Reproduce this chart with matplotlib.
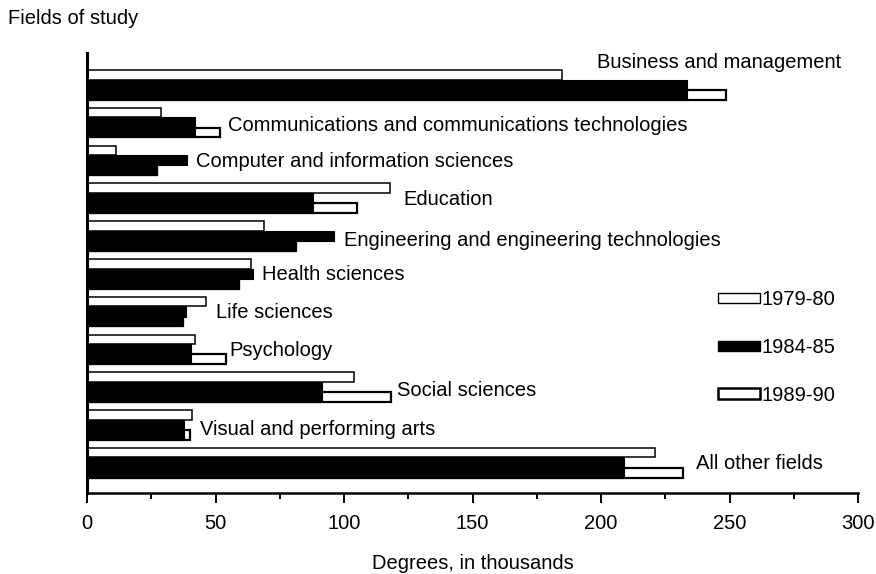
import numpy as np
import matplotlib
matplotlib.use("Agg")
import matplotlib.pyplot as plt
from matplotlib.patches import Patch

# bachelor's degrees by field, in thousands
fields = ["Business and management",
          "Communications and communications technologies",
          "Computer and information sciences",
          "Education",
          "Engineering and engineering technologies",
          "Health sciences",
          "Life sciences",
          "Psychology",
          "Social sciences",
          "Visual and performing arts",
          "All other fields"]
deg_1979 = [184.9, 28.6, 11.2, 118.0, 68.9, 63.9, 46.4, 42.1, 103.7, 40.9, 221.0]
deg_1984 = [233.4, 42.1, 39.1, 88.1, 96.1, 64.5, 38.4, 40.5, 91.5, 37.9, 209.0]
deg_1989 = [248.7, 51.7, 27.3, 105.1, 81.3, 59.0, 37.2, 54.0, 118.1, 39.9, 232.0]
years = ["1979-80", "1984-85", "1989-90"]

# where the field names sit (x in thousands, y shift in rows)
label_x = [198.5, 55, 42.5, 123, 100, 68, 50, 55.5, 120.5, 44, 237]
label_dy = [-0.63, 0.05, 0, 0, 0.08, 0, 0, 0, 0.05, 0.08, 0]

plt.rcParams['font.family'] = ['Liberation Sans', 'DejaVu Sans']
plt.rcParams['font.size'] = 14.5

fig = plt.figure(figsize=(8.76, 5.74), dpi=100)
ax = fig.add_axes([87/876, 81/574, 771/876, 440/574])

y = np.arange(len(fields))
a = np.array(deg_1979)
b = np.array(deg_1984)
c = np.array(deg_1989)

ax.barh(y - 0.295, a, height=0.25, color='white', edgecolor='black', lw=1.1, zorder=2)
ax.barh(y + 0.23, c, height=0.26, color='white', edgecolor='black', lw=1.6, zorder=1)
ax.barh(y - 0.035, b, height=0.27, color='black', edgecolor='black', lw=0.8, zorder=3)
# dark band where the 1989-90 bar runs under the 1984-85 bar (as in the scan)
ax.barh(y + 0.23, np.minimum(b, c), height=0.26, color='black', edgecolor='black', lw=0.8, zorder=3)

for i, name in enumerate(fields):
    ax.text(label_x[i], y[i] + label_dy[i], name, va='center', ha='left')

ax.set_xlim(0, 300)
ax.set_ylim(10.77, -0.873)
ax.set_xticks(np.arange(0, 301, 50))
ax.set_xticks(np.arange(25, 300, 50), minor=True)
ax.set_yticks([])
ax.tick_params(axis='x', which='major', length=7, width=1.4, direction='out', pad=8)
ax.tick_params(axis='x', which='minor', length=4, width=1.4, direction='out')
for s in ['top', 'right']:
    ax.spines[s].set_visible(False)
ax.spines['left'].set_linewidth(2.2)
ax.spines['bottom'].set_linewidth(1.8)
ax.set_xlabel("Degrees, in thousands", labelpad=15)

handles = [Patch(facecolor='white', edgecolor='black', lw=1.0),
           Patch(facecolor='black', edgecolor='black'),
           Patch(facecolor='white', edgecolor='black', lw=1.8)]
ax.legend(handles, years, loc='upper left', bbox_to_anchor=(0.806, 0.484),
          frameon=False, borderpad=0, handlelength=2.05, handleheight=0.4,
          handletextpad=0.1, labelspacing=1.43)

fig.text(8/876, 1 - 18/574, "Fields of study", va='center', ha='left')

fig.savefig("out.png", dpi=100)
